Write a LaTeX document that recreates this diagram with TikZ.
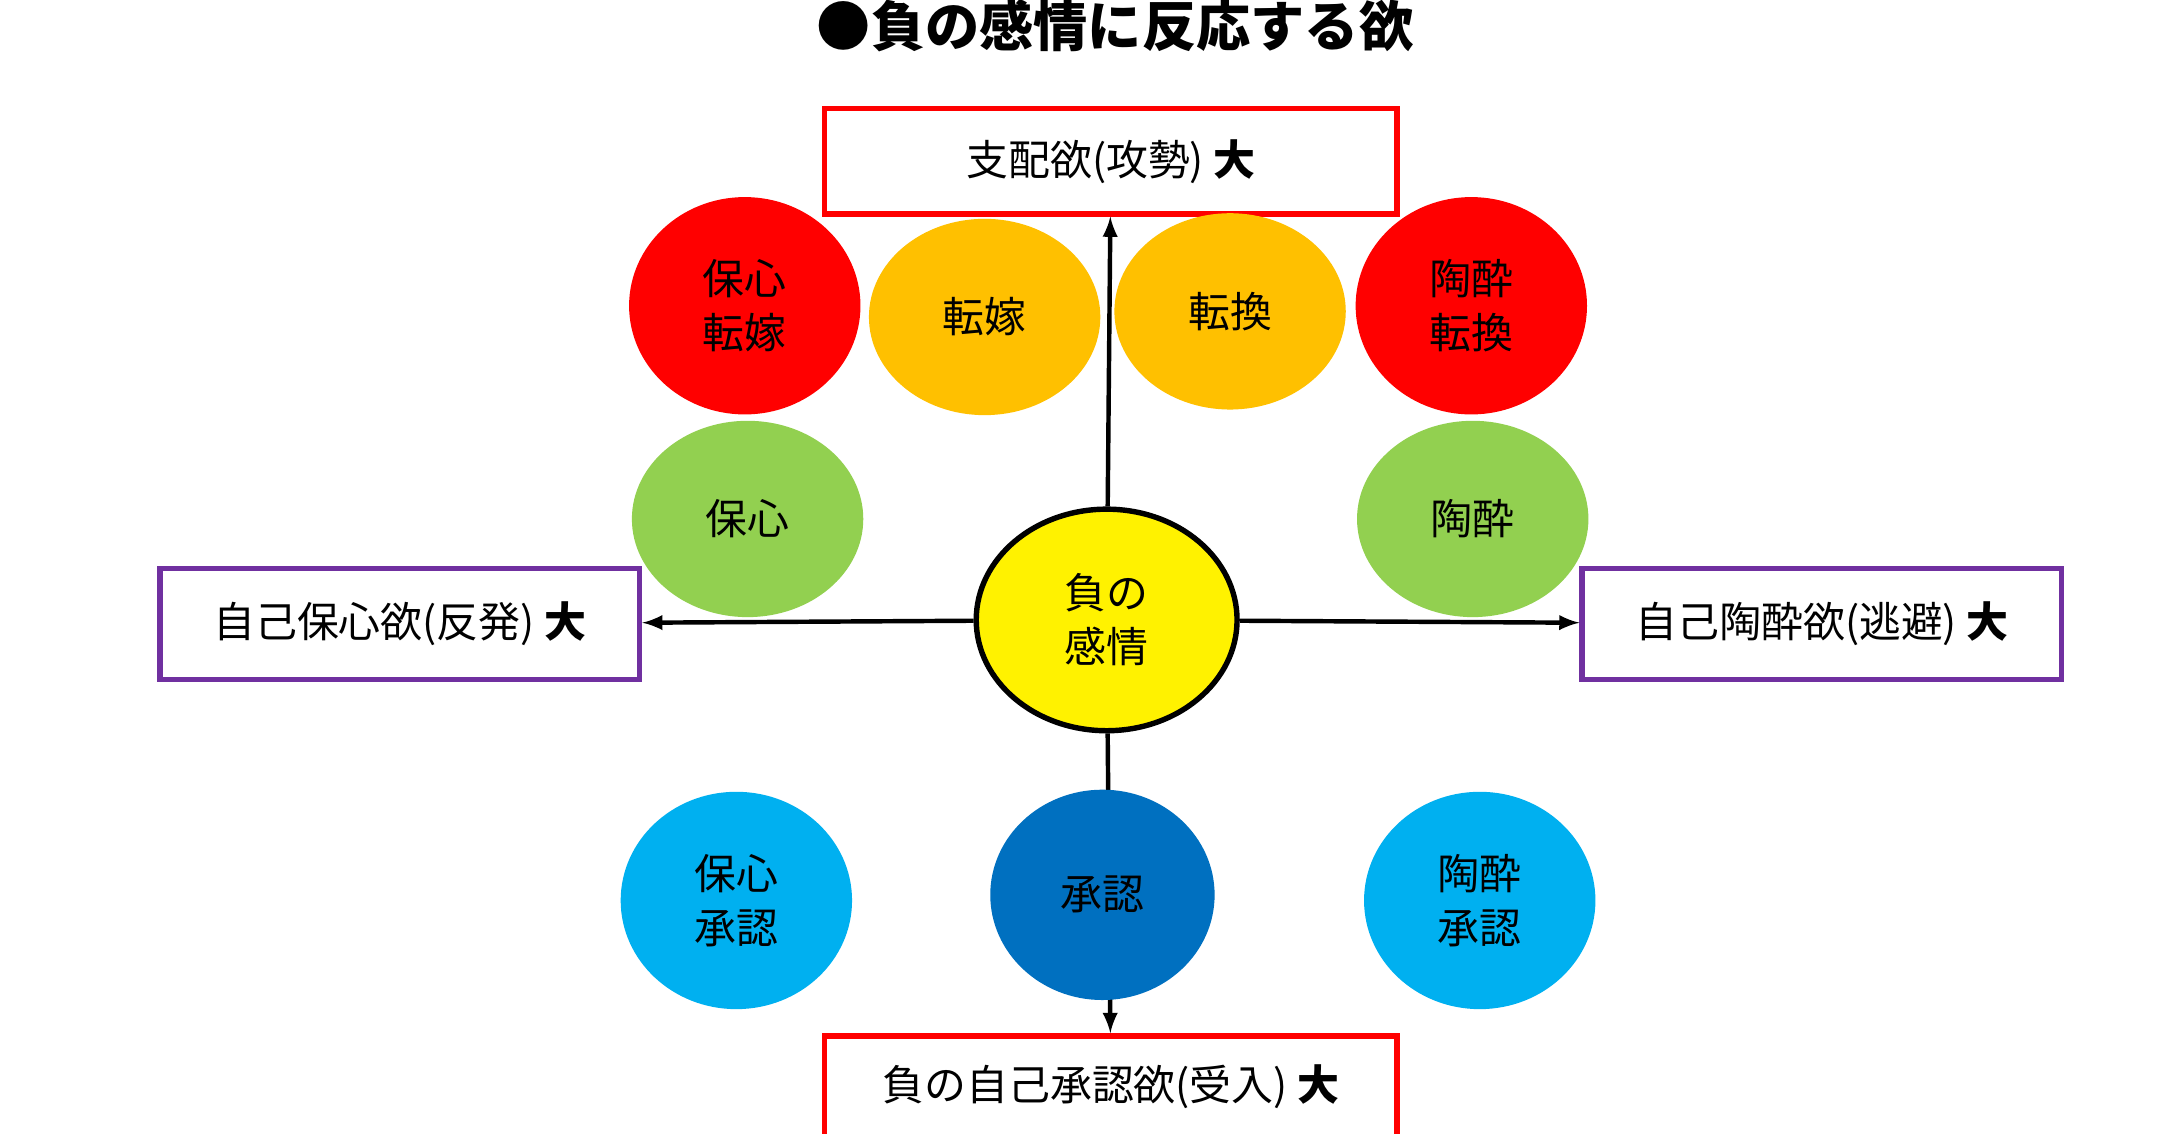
\documentclass[tikz,border=0pt]{standalone}
\usepackage{fontspec}
\setmainfont{Noto Sans CJK JP}
\usepackage{tikz}
\usetikzlibrary{arrows,shapes.geometric}
\tikzset{>=latex}
\definecolor{cred}{HTML}{FF0000}
\definecolor{corange}{HTML}{FFC000}
\definecolor{cgreen}{HTML}{92D050}
\definecolor{clblue}{HTML}{00B0F0}
\definecolor{cdblue}{HTML}{0070C0}
\definecolor{cpurple}{HTML}{7030A0}
\begin{document}
\begin{tikzpicture}[x=0.02cm, y=-0.02cm]
                        % px coordinates, y going down
                        \tikzstyle{every node}=[font=\fontsize{17}{22}\selectfont, align=center]
                        \tikzstyle{bigbox}=[draw, line width=2.2pt, minimum height=1.5cm]
                        \tikzstyle{ball}=[ellipse, inner sep=0pt, minimum width=3.3cm, minimum height=3.1cm]
                        \tikzstyle{every edge}=[black, ->, line width=1.8pt, draw]
                        \useasboundingbox[fill=white] (0,0) rectangle (1550,808.5);
                        \node[font=\fontsize{22}{26}\selectfont\bfseries] (title) at (795,18) {●負の感情に反応する欲};

                        \node[bigbox, draw=cred, minimum width=8.16cm] (up) at (792,115) {支配欲(攻勢) \textbf{大}};
                        \node[bigbox, draw=cpurple, minimum width=6.84cm, minimum height=1.58cm] (lt) at (285,445) {自己保心欲(反発) \textbf{大}};
                        \node[bigbox, draw=cpurple, minimum width=6.84cm, minimum height=1.58cm] (rt) at (1299,445) {自己陶酔欲(逃避) \textbf{大}};
                        \node[bigbox, draw=cred, minimum width=8.16cm, minimum height=1.46cm] (dn) at (792,775) {負の自己承認欲(受入) \textbf{大}};

                        \node[ellipse, draw=black, line width=2.2pt, fill=yellow, minimum width=3.72cm, minimum height=3.16cm] (mind) at (789,442) {負の\\感情};
                        \draw (mind) edge (up);
                        \draw (mind) edge (lt);
                        \draw (mind) edge (rt);
                        \draw (mind) edge (dn);

                        \node[ball, fill=cred] (hr) at (531,218) {保心\\転嫁};
                        \node[ball, fill=cred] (tr) at (1049,218) {陶酔\\転換};
                        \node[ball, fill=corange, minimum height=2.8cm] (ho) at (702,226) {転嫁};
                        \node[ball, fill=corange, minimum height=2.8cm] (to) at (877,222) {転換};
                        \node[ball, fill=cgreen, minimum height=2.8cm] (hg) at (533,370) {保心};
                        \node[ball, fill=cgreen, minimum height=2.8cm] (tg) at (1050,370) {陶酔};
                        \node[ball, fill=clblue] (hb) at (525,642) {保心\\承認};
                        \node[ball, fill=clblue] (tb) at (1055,642) {陶酔\\承認};
                        \node[ball, fill=cdblue, minimum width=3.2cm, minimum height=3.0cm] (sb) at (786,638) {承認};
\end{tikzpicture}
\end{document}
